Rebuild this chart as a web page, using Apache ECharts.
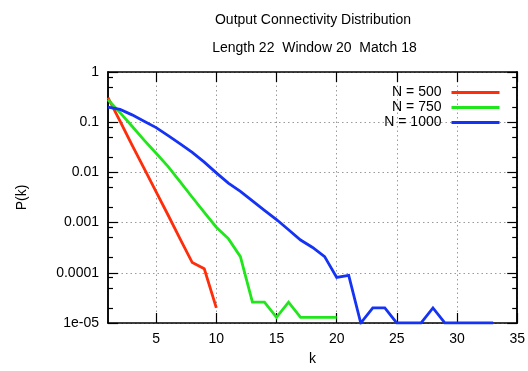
<!DOCTYPE html>
<html>
<head>
<meta charset="utf-8">
<script src="https://cdn.jsdelivr.net/npm/echarts@6/dist/echarts.min.js"></script>
<style>
html,body{margin:0;padding:0;background:#fff;}
#chart{width:528px;height:371px;}
</style>
</head>
<body>
<div id="chart"></div>
<script>
// ---- data ----
const titleText = 'Output Connectivity Distribution';
const subtitleText = 'Length 22  Window 20  Match 18';
const xName = 'k';
const yName = 'P(k)';
const seriesNames = ['N = 500', 'N = 750', 'N = 1000'];
const seriesColors = ['#ff2d0a', '#22e61c', '#1533f5'];
const p500 = [0.31, 0.105, 0.035, 0.012, 0.0041, 0.0014, 4.7e-4, 1.6e-4, 1.2e-4, 2e-5];
const p750 = [0.28, 0.155, 0.083, 0.044, 0.024, 0.013, 0.0065, 0.0032, 0.0016, 8.1e-4,
              4.8e-4, 2.1e-4, 2.6e-5, 2.6e-5, 1.3e-5, 2.6e-5, 1.3e-5, 1.3e-5, 1.3e-5, 1.3e-5];
const p1000 = [0.2, 0.18, 0.14, 0.105, 0.078, 0.054, 0.037, 0.025, 0.016, 0.0098,
               0.0061, 0.0042, 0.0027, 0.00176, 0.00115, 7.2e-4, 4.5e-4, 3.2e-4, 2.1e-4, 8.1e-5,
               8.9e-5, 1e-5, 2e-5, 2e-5, 1e-5, 1e-5, 1e-5, 2e-5, 1e-5, 1e-5,
               1e-5, 1e-5, 1e-5];
const xTicks = [5, 10, 15, 20, 25, 30, 35];
const yTickLabels = ['1e-05', '0.0001', '0.001', '0.01', '0.1', '1'];
const yMajorTicks = [1e-5, 1e-4, 1e-3, 1e-2, 1e-1, 1];
const yMinorTicks = [2e-5, 5e-5, 8e-5, 2e-4, 5e-4, 8e-4, 2e-3, 5e-3, 8e-3,
                     2e-2, 5e-2, 8e-2, 0.2, 0.5, 0.8];

// ---- build ----
const allSeries = [p500, p750, p1000];
const FONT = 'Liberation Sans, Arial, Helvetica, sans-serif';
const FS = 14;
const GRID = {left: 108, top: 72, width: 409.5, height: 256};
const black = '#000';

function toPairs(arr) { return arr.map((v, i) => [i + 1, v]); }

function yAxisDef(pos, ticks, len, withLabels) {
  return {
    type: 'log', logBase: 10, min: 1e-5, max: 1, position: pos,
    axisLine: {show: true, lineStyle: {color: black, width: 1.5}},
    axisTick: {show: true, inside: true, length: len, customValues: ticks,
               lineStyle: {color: black, width: 1.2}},
    axisLabel: withLabels ? {
      show: true, margin: 9, color: black, fontSize: FS, fontFamily: FONT,
      customValues: yMajorTicks,
      formatter: v => yTickLabels[Math.round(Math.log10(v)) + 5]
    } : {show: false},
    splitLine: withLabels ? {show: true, lineStyle: {color: '#9a9a9a', width: 1, type: [1.5, 3]}} : {show: false},
    minorTick: {show: false}, minorSplitLine: {show: false}
  };
}

const option = {
  animation: false,
  backgroundColor: '#fff',
  textStyle: {fontFamily: FONT},
  grid: GRID,
  graphic: [
    {type: 'text', x: 313, y: 20, style: {text: titleText, align: 'center', verticalAlign: 'middle',
      fontSize: FS, fontFamily: FONT, fill: black}},
    {type: 'text', x: 314.5, y: 48, style: {text: subtitleText, align: 'center', verticalAlign: 'middle',
      fontSize: FS, fontFamily: FONT, fill: black}}
  ],
  legend: {
    orient: 'vertical', right: 28.5, top: 85.5, align: 'right',
    itemWidth: 48, itemHeight: 3, itemGap: 1, icon: 'rect',
    padding: 0,
    textStyle: {fontSize: FS, fontFamily: FONT, color: black, lineHeight: 14, padding: [0, 5, 0, 0]},
    data: seriesNames
  },
  xAxis: [
    {
      type: 'value', min: 1, max: 35, position: 'bottom',
      name: xName, nameLocation: 'middle', nameGap: 29,
      nameTextStyle: {fontSize: FS, fontFamily: FONT, color: black},
      axisLine: {show: true, lineStyle: {color: black, width: 1.5}},
      axisTick: {show: true, inside: true, length: 10, customValues: xTicks,
                 lineStyle: {color: black, width: 1.2}},
      axisLabel: {show: true, margin: 9, color: black, fontSize: FS, fontFamily: FONT, customValues: xTicks},
      splitLine: {show: true, lineStyle: {color: '#9a9a9a', width: 1, type: [1.5, 3]}}
    },
    {
      type: 'value', min: 1, max: 35, position: 'top',
      axisLine: {show: true, lineStyle: {color: black, width: 1.5}},
      axisTick: {show: true, inside: true, length: 10, customValues: xTicks,
                 lineStyle: {color: black, width: 1.2}},
      axisLabel: {show: false},
      splitLine: {show: false}
    }
  ],
  yAxis: [
    Object.assign(yAxisDef('left', yMajorTicks, 10, true),
      {name: yName, nameLocation: 'middle', nameGap: 79, nameRotate: 90,
       nameTextStyle: {fontSize: FS, fontFamily: FONT, color: black}}),
    yAxisDef('left', yMinorTicks, 5, false),
    yAxisDef('right', yMajorTicks, 10, false),
    yAxisDef('right', yMinorTicks, 5, false)
  ],
  series: allSeries.map((arr, i) => ({
    name: seriesNames[i], type: 'line', xAxisIndex: 0, yAxisIndex: 0,
    data: toPairs(arr), symbol: 'none', showSymbol: false,
    lineStyle: {color: seriesColors[i], width: 2.8, join: 'miter'},
    itemStyle: {color: seriesColors[i]},
    z: 3 + i
  }))
};

const chart = echarts.init(document.getElementById('chart'), null, {renderer: 'canvas'});
chart.setOption(option);
</script>
</body>
</html>
